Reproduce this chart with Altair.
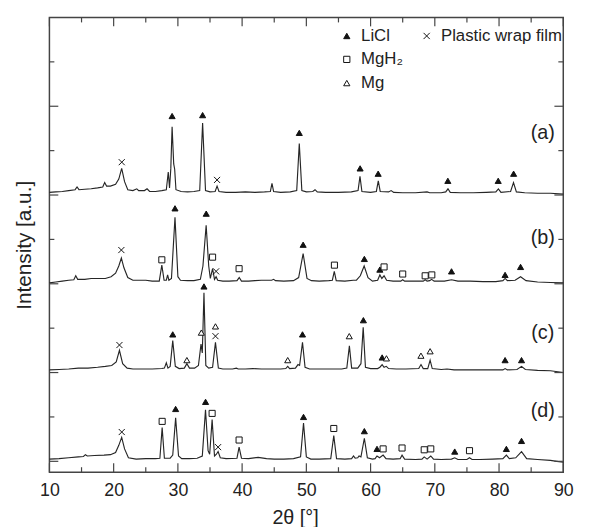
import altair as alt
import pandas as pd

FONT = "Liberation Sans"

# ---------------- traces (2theta, intensity in a.u., offset included) ----------------
trace_a = [
    (10, 3.03), (11, 3.035), (12, 3.04), (13, 3.05), (14, 3.06), (14.3, 3.09), (14.6, 3.06),
    (15.5, 3.065), (16.5, 3.07), (17.5, 3.08), (18.3, 3.09), (18.6, 3.14), (18.9, 3.10),
    (19.5, 3.10), (20.3, 3.12), (20.8, 3.18), (21.25, 3.30), (21.7, 3.15), (22.2, 3.06),
    (23, 3.05), (23.6, 3.07), (23.9, 3.05), (24.8, 3.05), (25.2, 3.07), (25.6, 3.04),
    (26.5, 3.04), (27.5, 3.05), (28.2, 3.06), (28.5, 3.26), (28.7, 3.08), (28.9, 3.30),
    (29.1, 3.77), (29.35, 3.35), (29.5, 3.29), (29.7, 3.06), (30.5, 3.04), (31.5, 3.035),
    (32.5, 3.04), (33.4, 3.05), (33.85, 3.81), (34.3, 3.05), (35, 3.035), (35.8, 3.04),
    (36.1, 3.10), (36.4, 3.04), (37.5, 3.03), (39, 3.03), (40.5, 3.035), (42, 3.03),
    (43.5, 3.035), (44.4, 3.04), (44.65, 3.13), (44.9, 3.04), (46, 3.03), (47.5, 3.035),
    (48.5, 3.05), (48.9, 3.58), (49.3, 3.05), (50, 3.035), (51, 3.04), (51.35, 3.06),
    (51.7, 3.035), (53, 3.03), (55, 3.03), (57, 3.035), (58.05, 3.05), (58.35, 3.21),
    (58.65, 3.04), (60, 3.03), (60.9, 3.04), (61.2, 3.16), (61.5, 3.04), (62.8, 3.035),
    (63.2, 3.05), (63.6, 3.03), (65, 3.025), (67, 3.025), (68.8, 3.035), (69.2, 3.025),
    (71, 3.025), (71.7, 3.035), (72.05, 3.07), (72.4, 3.03), (74, 3.025), (76, 3.025),
    (78, 3.03), (79.5, 3.035), (79.9, 3.07), (80.3, 3.03), (81.8, 3.04), (82.25, 3.14),
    (82.7, 3.035), (84, 3.025), (86, 3.02), (88, 3.02), (90, 3.01),
]
trace_b = [
    (10, 2.01), (11, 2.02), (12, 2.03), (13, 2.04), (13.8, 2.045), (14.1, 2.09), (14.4, 2.05),
    (15.5, 2.05), (16.5, 2.06), (17.5, 2.06), (18.7, 2.06), (19.6, 2.08), (20.3, 2.12),
    (20.8, 2.20), (21.2, 2.29), (21.6, 2.18), (22.2, 2.07), (23, 2.04), (24, 2.04), (25, 2.04),
    (26, 2.03), (27.1, 2.03), (27.5, 2.21), (27.85, 2.04), (28.2, 2.04), (28.4, 2.10),
    (28.6, 2.04), (29.0, 2.06), (29.55, 2.75), (30.0, 2.08), (30.4, 2.04), (31.5, 2.035),
    (32.5, 2.035), (33.5, 2.05), (33.9, 2.20), (34.4, 2.66), (34.8, 2.20), (35.05, 2.06),
    (35.4, 2.17), (35.7, 2.05), (35.95, 2.08), (36.2, 2.04), (37, 2.03), (38, 2.03),
    (39.2, 2.035), (39.55, 2.07), (39.9, 2.03), (41, 2.03), (42, 2.035), (43, 2.04),
    (44.6, 2.04), (44.9, 2.05), (45.2, 2.035), (46.5, 2.03), (48, 2.035), (48.8, 2.07),
    (49.5, 2.34), (50.1, 2.06), (50.8, 2.035), (52, 2.03), (53.5, 2.035), (54.05, 2.04),
    (54.35, 2.14), (54.65, 2.035), (56, 2.03), (57.3, 2.04), (57.8, 2.04), (58.4, 2.09),
    (59.0, 2.20), (59.6, 2.07), (60.3, 2.03), (61.1, 2.04), (61.45, 2.10), (61.75, 2.06),
    (62.1, 2.09), (62.5, 2.04), (63.5, 2.03), (64.7, 2.03), (65.0, 2.045), (65.3, 2.03),
    (67, 2.03), (68.2, 2.03), (68.5, 2.045), (68.8, 2.03), (69.2, 2.035), (69.5, 2.05),
    (69.9, 2.03), (71.5, 2.03), (72.6, 2.045), (73.6, 2.03), (75.5, 2.03), (77.5, 2.025),
    (79.5, 2.025), (80.6, 2.035), (80.95, 2.06), (81.3, 2.035), (82.5, 2.04), (83.35, 2.08),
    (84.2, 2.035), (86, 2.02), (88, 2.015), (90, 2.01),
]
trace_c = [
    (10, 1.03), (11.5, 1.035), (13, 1.04), (14.5, 1.05), (16, 1.05), (17.5, 1.06), (18.7, 1.07),
    (19.7, 1.08), (20.4, 1.12), (20.9, 1.25), (21.4, 1.10), (22.1, 1.05), (23, 1.04),
    (24.5, 1.04), (26, 1.04), (27.5, 1.045), (27.9, 1.05), (28.2, 1.11), (28.45, 1.05),
    (28.8, 1.07), (29.2, 1.36), (29.6, 1.07), (30.2, 1.045), (31.0, 1.05), (31.4, 1.10),
    (31.8, 1.05), (32.6, 1.05), (33.2, 1.08), (33.6, 1.32), (33.8, 1.22), (34.06, 1.90),
    (34.35, 1.08), (34.8, 1.05), (35.4, 1.06), (35.85, 1.34), (36.3, 1.05), (37, 1.04),
    (38.5, 1.04), (39.1, 1.05), (39.4, 1.04), (40.5, 1.04), (41.7, 1.045), (43, 1.04),
    (44.5, 1.04), (46, 1.04), (46.8, 1.045), (47.1, 1.07), (47.4, 1.045), (48.3, 1.05),
    (48.7, 1.09), (48.95, 1.08), (49.4, 1.34), (49.8, 1.06), (50.5, 1.04), (52, 1.04),
    (54, 1.04), (55.5, 1.04), (56.3, 1.05), (56.7, 1.30), (57.05, 1.05), (58.0, 1.05),
    (58.5, 1.10), (58.85, 1.51), (59.2, 1.06), (60, 1.045), (61.1, 1.045), (61.45, 1.06),
    (61.8, 1.09), (62.1, 1.06), (62.45, 1.07), (62.8, 1.045), (64, 1.04), (65.5, 1.04),
    (67.5, 1.045), (67.85, 1.09), (68.2, 1.045), (68.9, 1.045), (69.27, 1.14), (69.6, 1.045),
    (71, 1.035), (71.9, 1.04), (73, 1.03), (75, 1.03), (77, 1.03), (79, 1.03), (80.6, 1.03),
    (80.95, 1.045), (81.3, 1.03), (82.8, 1.035), (83.5, 1.07), (84.1, 1.035), (86, 1.025),
    (88, 1.02), (90, 1.0),
]
trace_d = [
    (10, 0.025), (11.5, 0.03), (13, 0.04), (14.5, 0.05), (15.3, 0.055), (15.6, 0.075),
    (15.9, 0.06), (17, 0.065), (18.5, 0.07), (19.5, 0.075), (20.3, 0.10), (20.8, 0.18),
    (21.25, 0.27), (21.7, 0.14), (22.3, 0.04), (23.5, 0.025), (25, 0.03), (26.5, 0.03),
    (27.2, 0.035), (27.55, 0.38), (27.9, 0.035), (28.8, 0.035), (29.2, 0.07), (29.65, 0.49),
    (30.1, 0.06), (30.6, 0.03), (31.8, 0.03), (33, 0.035), (33.8, 0.06), (34.3, 0.58),
    (34.7, 0.12), (34.95, 0.08), (35.33, 0.47), (35.7, 0.06), (36.0, 0.08), (36.26, 0.11),
    (36.6, 0.04), (37.5, 0.03), (39.2, 0.035), (39.53, 0.16), (39.9, 0.035), (41, 0.03),
    (42.5, 0.045), (43.8, 0.03), (45, 0.025), (46.5, 0.025), (48, 0.03), (49.1, 0.05),
    (49.56, 0.43), (50.0, 0.05), (50.7, 0.025), (52, 0.025), (53.8, 0.03), (54.27, 0.29),
    (54.7, 0.03), (56, 0.025), (57.05, 0.03), (57.34, 0.06), (57.6, 0.035), (58.0, 0.04),
    (58.2, 0.06), (58.5, 0.05), (59.03, 0.26), (59.5, 0.04), (60.3, 0.025), (60.7, 0.03),
    (61.0, 0.06), (61.4, 0.04), (61.95, 0.07), (62.4, 0.03), (63.5, 0.025), (64.6, 0.03),
    (64.9, 0.07), (65.3, 0.025), (67, 0.02), (68.0, 0.025), (68.35, 0.05), (68.8, 0.025),
    (69.37, 0.06), (69.8, 0.025), (71, 0.02), (72.6, 0.025), (73.1, 0.04), (73.6, 0.02),
    (75.0, 0.02), (75.4, 0.04), (75.8, 0.02), (77, 0.02), (79, 0.025), (80.6, 0.03),
    (81.14, 0.07), (81.6, 0.03), (82.6, 0.04), (83.5, 0.11), (84.3, 0.03), (86, 0.02),
    (88, 0.01), (89, 0.0), (90, -0.01),
]

# ---------------- phase markers (2theta, height, phase) ----------------
markers_a = [
    (21.26, 3.37, "Plastic wrap film"), (29.1, 3.89, "LiCl"), (33.85, 3.90, "LiCl"),
    (36.1, 3.17, "Plastic wrap film"), (48.9, 3.70, "LiCl"), (58.37, 3.30, "LiCl"),
    (61.18, 3.24, "LiCl"), (72.03, 3.16, "LiCl"), (79.87, 3.16, "LiCl"), (82.27, 3.24, "LiCl"),
]
markers_b = [
    (21.2, 2.38, "Plastic wrap film"), (27.5, 2.27, "MgH₂"), (29.55, 2.85, "LiCl"),
    (34.41, 2.79, "LiCl"), (35.4, 2.30, "MgH₂"), (35.95, 2.14, "Plastic wrap film"),
    (39.53, 2.17, "MgH₂"), (49.5, 2.44, "LiCl"), (54.37, 2.21, "MgH₂"), (59.03, 2.28, "LiCl"),
    (61.44, 2.16, "LiCl"), (62.1, 2.19, "MgH₂"), (65.0, 2.11, "MgH₂"), (68.5, 2.09, "MgH₂"),
    (69.53, 2.10, "MgH₂"), (72.6, 2.14, "LiCl"), (80.94, 2.10, "LiCl"), (83.35, 2.19, "LiCl"),
]
markers_c = [
    (20.9, 1.31, "Plastic wrap film"), (29.2, 1.43, "LiCl"), (31.4, 1.14, "Mg"),
    (33.65, 1.45, "Mg"), (34.06, 1.97, "LiCl"), (35.85, 1.52, "Mg"),
    (35.85, 1.41, "Plastic wrap film"), (47.1, 1.14, "Mg"), (49.4, 1.43, "LiCl"),
    (56.68, 1.41, "Mg"), (58.88, 1.59, "LiCl"), (61.8, 1.17, "LiCl"), (62.47, 1.16, "Mg"),
    (67.84, 1.19, "Mg"), (69.27, 1.24, "Mg"), (80.94, 1.14, "LiCl"), (83.5, 1.14, "LiCl"),
]
markers_d = [
    (21.26, 0.33, "Plastic wrap film"), (27.55, 0.45, "MgH₂"), (29.65, 0.59, "LiCl"),
    (34.31, 0.67, "LiCl"), (35.33, 0.54, "MgH₂"), (36.26, 0.16, "Plastic wrap film"),
    (39.53, 0.24, "MgH₂"), (49.56, 0.50, "LiCl"), (54.27, 0.37, "MgH₂"), (59.03, 0.34, "LiCl"),
    (61.0, 0.14, "LiCl"), (61.95, 0.14, "MgH₂"), (64.9, 0.15, "MgH₂"), (68.35, 0.13, "MgH₂"),
    (69.37, 0.14, "MgH₂"), (73.1, 0.11, "LiCl"), (75.4, 0.12, "MgH₂"), (81.14, 0.14, "LiCl"),
    (83.5, 0.23, "LiCl"),
]

panel_names = ["(a)", "(b)", "(c)", "(d)"]
panel_x = [86.8, 86.8, 86.8, 86.8]
panel_y = [3.70, 2.51, 1.44, 0.57]

x_major = [10, 20, 30, 40, 50, 60, 70, 80, 90]
x_minor = [15, 25, 35, 45, 55, 65, 75, 85]
y_major = [0, 1, 2, 3, 4]
y_minor = [0.5, 1.5, 2.5, 3.5, 4.5]

# legend entries fill column by column (3 rows x 2 columns); "_" is an empty slot
phase_domain = ["LiCl", "MgH₂", "Mg", "Plastic wrap film", "_"]
phase_shapes = ["triangle-up", "square", "triangle-up", "M-1,-1L1,1M-1,1L1,-1", "M0,0"]
phase_fills = ["#111111", "#ffffff", "#ffffff", "#111111", "#ffffff"]
phase_strokes = ["#111111", "#111111", "#111111", "#111111", "#ffffff"]

# ---------------- build tables ----------------
rows = []
for name, tr in zip(["a", "b", "c", "d"], [trace_a, trace_b, trace_c, trace_d]):
    for t, v in tr:
        rows.append({"theta": t, "v": v, "trace": name})
lines_df = pd.DataFrame(rows)

mrows = []
for mk in [markers_a, markers_b, markers_c, markers_d]:
    for t, v, p in mk:
        mrows.append({"theta": t, "v": v, "phase": p})
mk_df = pd.DataFrame(mrows)

panel_df = pd.DataFrame({"theta": panel_x, "v": panel_y, "label": panel_names})

W, H = 521, 461
TICK = "#444444"

X_ENC = alt.X("theta:Q", scale=alt.Scale(domain=[10, 90], nice=False, zero=False),
              axis=alt.Axis(title="2θ [°]", values=x_major, ticks=False, domain=False,
                            grid=False, labelFontSize=18, labelPadding=10, labelFlush=False,
                            labelOverlap=False, labelFont=FONT, labelColor="#222222",
                            titleFont=FONT, titleFontSize=20, titleFontWeight="normal",
                            titleColor="#222222", titlePadding=8, titleX=249))
Y_ENC = alt.Y("v:Q", scale=alt.Scale(domain=[-0.122, 5.0], nice=False, zero=False),
              axis=alt.Axis(title="Intensity [a.u.]", labels=False, ticks=False,
                            domain=False, grid=False, titleFont=FONT, titleFontSize=21,
                            titleFontWeight="normal", titleColor="#222222",
                            titlePadding=15))

lines = alt.Chart(lines_df).mark_line(color="#262626", strokeWidth=1.15).encode(
    x=X_ENC, y=Y_ENC, detail="trace:N", order="theta:Q",
)


def xticks(values, y0, y1):
    return alt.Chart(pd.DataFrame({"theta": values})).mark_rule(
        color=TICK, strokeWidth=1.2).encode(
        x=X_ENC, y=alt.value(y0), y2=alt.value(y1))


def yticks(values, x0, x1):
    return alt.Chart(pd.DataFrame({"v": values})).mark_rule(
        color=TICK, strokeWidth=1.2).encode(
        y=Y_ENC, x=alt.value(x0), x2=alt.value(x1))


tick_layers = [
    xticks(x_major, H, H - 9), xticks(x_minor, H, H - 5),
    xticks(x_major, 0, 9), xticks(x_minor, 0, 5),
    yticks(y_major, 0, 9), yticks(y_minor, 0, 5),
    yticks(y_major, W, W - 9), yticks(y_minor, W, W - 5),
]

leg = alt.Legend(title=None, orient="none", legendX=293, legendY=10, columns=2,
                 labelFont=FONT, labelFontSize=17, labelColor="#222222",
                 symbolSize=40, symbolStrokeWidth=1,
                 rowPadding=6, columnPadding=15, labelOffset=6, padding=0,
                 labelExpr="datum.label == '_' ? '' : datum.label")

markers = alt.Chart(mk_df).mark_point(filled=False, strokeWidth=1,
                                      opacity=1, size=38).encode(
    x=X_ENC, y=Y_ENC,
    shape=alt.Shape("phase:N", scale=alt.Scale(domain=phase_domain, range=phase_shapes),
                    legend=leg),
    fill=alt.Fill("phase:N", scale=alt.Scale(domain=phase_domain, range=phase_fills),
                  legend=leg),
    stroke=alt.Stroke("phase:N", scale=alt.Scale(domain=phase_domain, range=phase_strokes),
                      legend=leg),
)

panels = alt.Chart(panel_df).mark_text(font=FONT, fontSize=20, color="#222222",
                                       align="center", baseline="middle").encode(
    x=X_ENC, y=Y_ENC, text="label:N",
)

chart = alt.layer(lines, *tick_layers, markers, panels).properties(
    width=W, height=H,
    autosize=alt.AutoSizeParams(type="none"),
    padding={"left": 42, "top": 6, "right": 20, "bottom": 52},
).configure_view(stroke="#444444", strokeWidth=1.5)

chart.save("out.html", embed_options={"renderer": "svg", "actions": False})
